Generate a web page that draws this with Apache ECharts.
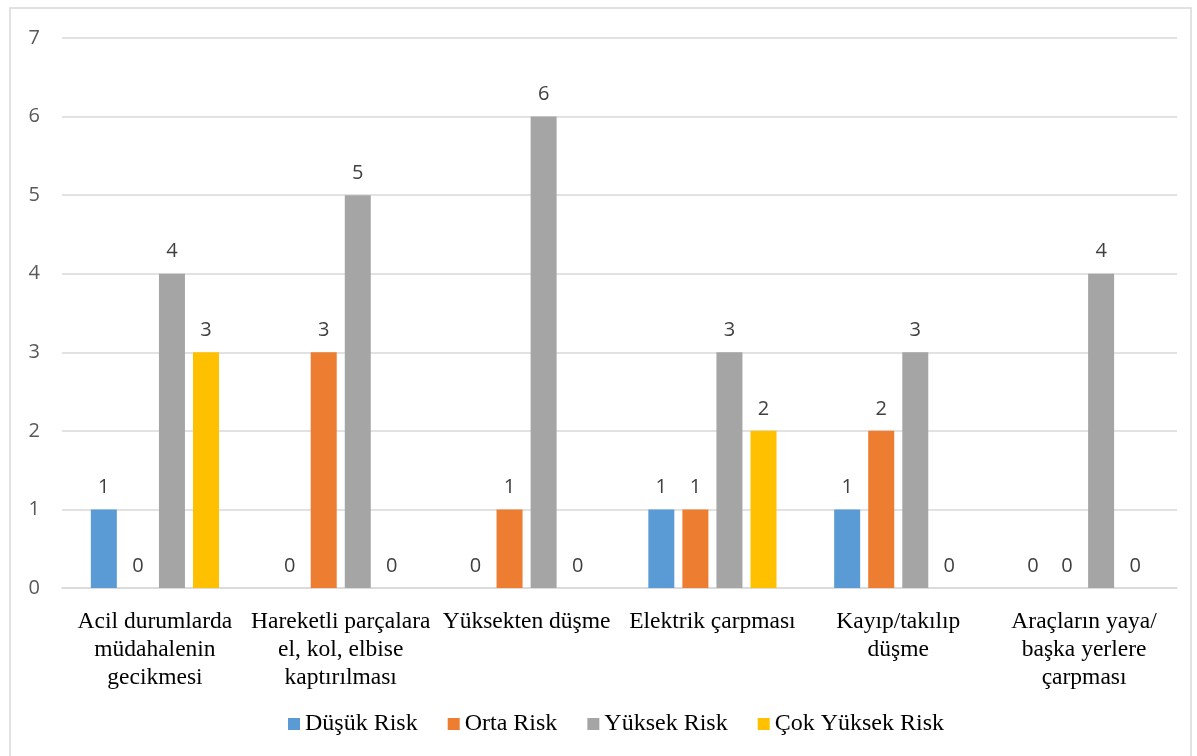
<!DOCTYPE html>
<html>
<head>
<meta charset="utf-8">
<script src="https://cdn.jsdelivr.net/npm/echarts@6/dist/echarts.min.js"></script>
<style>
  html, body { margin: 0; padding: 0; background: #fff; }
  #chart { width: 1197px; height: 756px; }
</style>
</head>
<body>
<div id="chart"></div>
<script>
// risk categories and counts per risk level
const categories = [
    'Acil durumlarda\nmüdahalenin\ngecikmesi',
    'Hareketli parçalara\nel, kol, elbise\nkaptırılması',
    'Yüksekten düşme',
    'Elektrik çarpması',
    'Kayıp/takılıp\ndüşme',
    'Araçların yaya/\nbaşka yerlere\nçarpması'
];
const seriesNames = ['Düşük Risk', 'Orta Risk', 'Yüksek Risk', 'Çok Yüksek Risk'];
const dusukRisk = [1, 0, 0, 1, 1, 0];
const ortaRisk = [0, 3, 1, 1, 2, 0];
const yuksekRisk = [4, 5, 6, 3, 3, 4];
const cokYuksekRisk = [3, 0, 0, 2, 0, 0];
const colors = ['#5B9BD5', '#ED7D31', '#A5A5A5', '#FFC000'];

const chart = echarts.init(document.getElementById('chart'));

const makeSeries = (name, data, color) => ({
    name: name,
    type: 'bar',
    data: data,
    barWidth: 26,
    barGap: '31%',
    itemStyle: { color: color },
    label: {
        show: true,
        position: 'top',
        distance: 12,
        color: '#404040',
        fontFamily: 'Open Sans',
        fontSize: 20
    }
});

chart.setOption({
    animation: false,
    color: colors,
    graphic: [{
        type: 'rect',
        shape: { x: 10, y: 8, width: 1181, height: 760 },
        style: { fill: 'none', stroke: '#d9d9d9', lineWidth: 1.5 },
        silent: true
    }],
    grid: { left: 62, right: 20, top: 38, bottom: 168 },
    legend: {
        bottom: 15,
        left: 283,
        icon: 'rect',
        itemWidth: 12,
        itemHeight: 12,
        itemGap: 30,
        textStyle: { fontFamily: 'Liberation Serif', fontSize: 24, color: '#000' },
        data: seriesNames
    },
    xAxis: {
        type: 'category',
        data: categories,
        axisLine: { lineStyle: { color: '#d9d9d9', width: 1.5 } },
        axisTick: { show: false },
        axisLabel: {
            interval: 0,
            margin: 20,
            lineHeight: 28,
            fontFamily: 'Liberation Serif',
            fontSize: 23.5,
            color: '#000'
        }
    },
    yAxis: {
        type: 'value',
        min: 0,
        max: 7,
        interval: 1,
        axisLine: { show: false },
        axisTick: { show: false },
        splitLine: { lineStyle: { color: '#d9d9d9', width: 1.5 } },
        axisLabel: {
            margin: 22,
            fontFamily: 'Open Sans',
            fontSize: 20,
            color: '#595959'
        }
    },
    series: [
        makeSeries(seriesNames[0], dusukRisk, colors[0]),
        makeSeries(seriesNames[1], ortaRisk, colors[1]),
        makeSeries(seriesNames[2], yuksekRisk, colors[2]),
        makeSeries(seriesNames[3], cokYuksekRisk, colors[3])
    ]
});
</script>
</body>
</html>
